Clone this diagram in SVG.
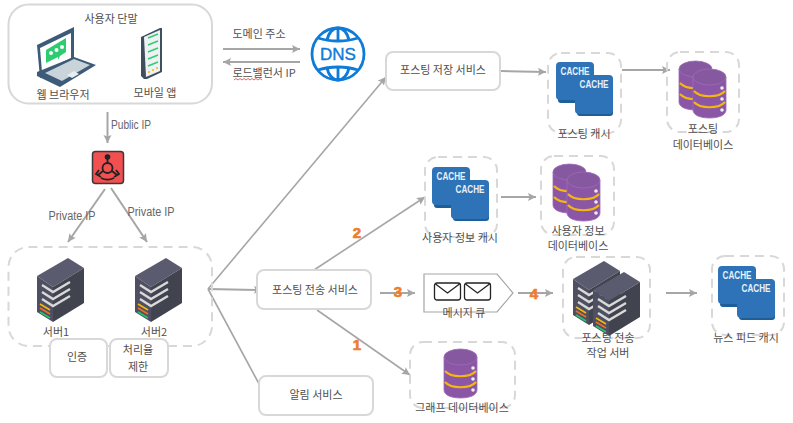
<svg xmlns="http://www.w3.org/2000/svg" xmlns:xlink="http://www.w3.org/1999/xlink" width="793" height="423" viewBox="0 0 793 423">
<style>
text{font-family:"Noto Sans CJK KR","Noto Sans",sans-serif;font-size:11px;fill:#505050;text-anchor:middle}
.lat{font-family:"Liberation Sans",sans-serif;font-size:12px;fill:#666}
.solid{fill:#fff;stroke:#d8d8d8;stroke-width:2}
.dash{fill:none;stroke:#d8d8d8;stroke-width:2;stroke-dasharray:9 6}
.conn{fill:none;stroke:#a6a6a6;stroke-width:2;marker-end:url(#arr)}
.thin{fill:none;stroke:#a6a6a6;stroke-width:1.6;marker-end:url(#arr)}
.num{font-family:"Liberation Sans",sans-serif;font-weight:700;font-size:15px;fill:#ed7d31;stroke:#ed7d31;stroke-width:.7}
.cw{font-family:"Liberation Sans",sans-serif;font-weight:700;font-size:11px;fill:#e8f1f8;text-anchor:middle}
</style>
<defs>
<marker id="arr" markerUnits="userSpaceOnUse" markerWidth="10" markerHeight="10" refX="8" refY="4" orient="auto"><path d="M0 0L8 4L0 8L1.500 4Z" fill="#a6a6a6"/></marker>
<g id="server">
<path d="M0 18L31 0L47 10L16 29Z" fill="#5a5b6e"/>
<path d="M0 18L16 29V64L0 54Z" fill="#4e4f60"/>
<path d="M16 29L47 10V45L16 64Z" fill="#41434f"/>
<g fill="none" stroke="#d9d9d9" stroke-width="2.400"><path d="M5 27L16 34L33 24"/><path d="M5 34L16 41L33 31"/><path d="M5 41L16 48L33 38"/></g>
<path d="M3 46L13 52" stroke="#f5b70f" stroke-width="1.600"/><path d="M3 50L13 56" stroke="#ec6f2b" stroke-width="1.600"/><path d="M3 54L13 60" stroke="#27c46b" stroke-width="1.600"/>
</g>
<g id="cachepair">
<rect x="2" y="2" width="36" height="39" rx="3" fill="#1f5f97"/>
<rect x="0" y="0" width="38" height="38" rx="4" fill="#2e73b8"/>
<rect x="21" y="15" width="36" height="39" rx="3" fill="#1f5f97"/>
<rect x="19" y="13" width="38" height="39" rx="4" fill="#2e73b8"/>
<text class="cw" x="19" y="13" textLength="29" lengthAdjust="spacingAndGlyphs">CACHE</text>
<text class="cw" x="38" y="26" textLength="29" lengthAdjust="spacingAndGlyphs">CACHE</text>
</g>
<g id="cyl">
<path d="M0 8V41C0 46 7 49 16.500 49S33 46 33 41V8Z" fill="#8a56a5" stroke="#9d6cb8" stroke-width=".8"/>
<ellipse cx="16.500" cy="8" rx="16.500" ry="8" fill="#8558a0" stroke="#9d6cb8" stroke-width=".8"/>
<path d="M1 22C7 29 26 29 32 22M1 33C7 40 26 40 32 33" fill="none" stroke="#f5b70f" stroke-width="2.200"/>
<circle cx="29" cy="19" r="1.800" fill="#eee"/><circle cx="29" cy="30" r="1.800" fill="#eee"/><circle cx="29" cy="41" r="1.800" fill="#eee"/>
</g>
<g id="dbpair">
<use href="#cyl" x="0" y="0"/>
<use href="#cyl" x="14" y="8"/>
</g>
<g id="env"><rect x="0" y="0" width="26" height="17" rx="2.500" fill="#fff" stroke="#222" stroke-width="1.300"/><path d="M1 1L13 10L25 1" fill="none" stroke="#222" stroke-width="1.300"/></g>
</defs>

<g id="connectors">
<path class="conn" d="M223 49H300"/>
<path class="conn" d="M300 62H223"/>
<path class="conn" d="M107.500 112V143"/>
<path class="conn" d="M105 189L68 242"/>
<path class="conn" d="M111 188L147 242"/>
<path class="thin" d="M208 289L386 77"/>
<path class="conn" d="M208 289L262 290"/>
<path class="thin" d="M208 289L265 395"/>
<path class="thin" d="M314 270L425 197"/>
<path class="thin" d="M317 310L410 375"/>
<path class="conn" d="M380 293H415"/>
<path class="conn" d="M518 293H553"/>
<path class="conn" d="M666 293H697"/>
<path class="conn" d="M501 71L546 72"/>
<path class="conn" d="M622 70H670"/>
<path class="conn" d="M501 197H536"/>
</g>

<g id="client">
<rect class="solid" x="8.500" y="4.500" width="203.500" height="99" rx="20"/>
<text x="111" y="23">사용자 단말</text>
<g id="laptop">
<path d="M37 45L74 27V60L40 78Z" fill="#3d5a78"/>
<path d="M40 48L71 33V58L42 72Z" fill="#fff"/>
<path d="M46 50L66 38V52L60 56L58 60V57L46 63Z" fill="#2ecc71"/>
<g fill="#fff"><circle cx="51" cy="53" r="2"/><circle cx="56.500" cy="50" r="2"/><circle cx="62" cy="47" r="2"/></g>
<path d="M37 72L74 57L96 65L60 87L37 76Z" fill="#3d5a78"/>
<path d="M45 73L74 59L90 65L62 81Z" fill="#c9d3da"/>
<path d="M67 75L74 71L79 74L72 78Z" fill="#e8edf0"/>
</g>
<text x="63" y="99">웹 브라우저</text>
<g id="phone">
<path d="M141 37L160 28H162V72L147 79H144L141 76Z" fill="#3f4f60"/>
<path d="M144 37L160 30V71L146 77Z" fill="#eef2f3"/>
<g stroke="#2ecc71" stroke-width="1.500"><path d="M148 38L158 34"/><path d="M148 45L158 41"/><path d="M148 52L158 48"/><path d="M148 59L158 55"/><path d="M148 66L158 62"/></g>
<g fill="#f5b70f"><circle cx="149" cy="72" r="1"/><circle cx="153" cy="70" r="1"/><circle cx="157" cy="68" r="1"/></g>
</g>
<text x="155" y="97">모바일 앱</text>
</g>

<g id="dns">
<g fill="none" stroke="#0f7bd8" stroke-width="2.800">
<circle cx="338" cy="54" r="26"/>
<path d="M338 28V40M338 68V80"/>
<path d="M327 41C328 33 333 28 338 28S348 33 349 41M327 67C328 75 333 80 338 80S348 75 349 67"/>
<path d="M318 38C330 42 346 42 358 38M318 70C330 66 346 66 358 70"/>
</g>
<text x="338" y="60" style="font-family:'Liberation Sans',sans-serif;font-size:17px;fill:#0f7bd8;stroke:#0f7bd8;stroke-width:.4">DNS</text>
</g>
<text x="259" y="38">도메인 주소</text>
<text x="264" y="77">로드밸런서 IP</text>
<path d="M234 80l2-1.500 2 1.500 2-1.500 2 1.500 2-1.500 2 1.500 2-1.500 2 1.500 2-1.500 2 1.500 2-1.500 2 1.500 2-1.500 2 1.500" fill="none" stroke="#e0403a" stroke-width=".8"/>
<text class="lat" x="131" y="129" textLength="40" lengthAdjust="spacingAndGlyphs">Public IP</text>

<g id="loadbalancer">
<rect x="92.500" y="151.500" width="31" height="32" rx="3" fill="#f25050" stroke="#3a3a3a" stroke-width="1.500"/>
<g fill="none" stroke="#222" stroke-width="1.800"><circle cx="107.500" cy="168" r="5"/><path d="M107.500 159V163M103 171L98 175M112 171L117 175M99 170L96 174L101 177M116 170L119 174L114 177M101 178C105 180 110 180 114 178"/></g>
<circle cx="107.500" cy="157" r="2.800" fill="#222"/>
</g>
<text class="lat" x="72" y="220" textLength="47" lengthAdjust="spacingAndGlyphs">Private IP</text>
<text class="lat" x="151" y="216" textLength="47" lengthAdjust="spacingAndGlyphs">Private IP</text>

<g id="servers">
<rect class="dash" x="8.500" y="247" width="203.500" height="99" rx="20"/>
<use href="#server" x="37" y="258"/>
<use href="#server" x="135" y="258"/>
<text x="56" y="336">서버1</text>
<text x="154" y="336">서버2</text>
</g>
<g id="auth"><rect class="solid" x="50" y="339" width="57" height="38" rx="7"/><text x="77" y="361">인증</text></g>
<g id="ratelimit"><rect class="solid" x="110" y="339" width="58" height="38" rx="7"/><text x="138" y="354">처리율</text><text x="138" y="371">제한</text></g>

<g id="fanout"><rect class="solid" x="257" y="270" width="114" height="39" rx="7"/><text x="315" y="294">포스팅 전송 서비스</text></g>
<g id="notify"><rect class="solid" x="259" y="376" width="114" height="39" rx="7"/><text x="316" y="399">알림 서비스</text></g>
<g id="poststore"><rect class="solid" x="386" y="52" width="114" height="38" rx="7"/><text x="443" y="74">포스팅 저장 서비스</text></g>

<g id="postcache"><rect class="dash" x="548" y="53" width="73" height="80" rx="13"/><use href="#cachepair" x="556" y="62"/><text x="584" y="138">포스팅 캐시</text></g>
<g id="postdb"><rect class="dash" x="667" y="52" width="72" height="80" rx="13"/><use href="#dbpair" x="679" y="61"/><text x="703" y="133">포스팅</text><text x="703" y="149">데이터베이스</text></g>
<g id="usercache"><rect class="dash" x="425" y="157" width="72" height="80" rx="13"/><use href="#cachepair" x="432" y="167"/><text x="460" y="242">사용자 정보 캐시</text></g>
<g id="userdb"><rect class="dash" x="541" y="156" width="73" height="79" rx="13"/><use href="#dbpair" x="553" y="164"/><text x="578" y="235">사용자 정보</text><text x="578" y="250">데이터베이스</text></g>
<g id="mq">
<path d="M424 274H497L513 293L497 312H424Z" fill="#fff" stroke="#a6a6a6" stroke-width="1.200"/>
<use href="#env" x="434.500" y="283"/><use href="#env" x="464.500" y="283"/>
<text x="464" y="317">메시지 큐</text>
</g>
<g id="worker"><rect class="dash" x="563" y="257" width="87" height="81" rx="13"/><use href="#server" x="573" y="261"/><use href="#server" x="593" y="272"/><text x="608" y="342">포스팅 전송</text><text x="608" y="357">작업 서버</text></g>
<g id="newscache"><rect class="dash" x="712" y="256" width="72" height="79" rx="13"/><use href="#cachepair" x="718" y="266"/><text x="746" y="342">뉴스 피드 캐시</text></g>
<g id="graphdb"><rect class="dash" x="410" y="342" width="105" height="66" rx="13"/><use href="#cyl" x="444" y="349"/><text x="462" y="412">그래프 데이터베이스</text></g>

<text class="num" x="357" y="238">2</text>
<text class="num" x="398" y="297">3</text>
<text class="num" x="534" y="299">4</text>
<text class="num" x="357" y="350">1</text>
</svg>
